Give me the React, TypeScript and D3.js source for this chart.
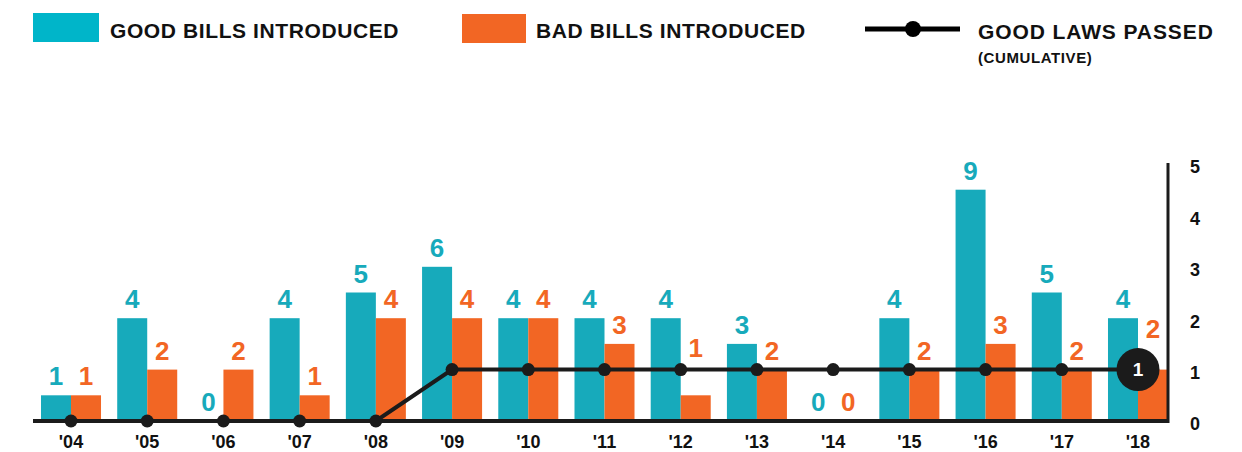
import * as d3 from "d3";
import { useEffect, useRef } from "react";

const years = ["'04", "'05", "'06", "'07", "'08", "'09", "'10", "'11", "'12", "'13", "'14", "'15", "'16", "'17", "'18"];
const goodBills = [1, 4, 0, 4, 5, 6, 4, 4, 4, 3, 0, 4, 9, 5, 4];
const badBills = [1, 2, 2, 1, 4, 4, 4, 3, 1, 2, 0, 2, 3, 2, 2];
const goodLawsCumulative = [0, 0, 0, 0, 0, 1, 1, 1, 1, 1, 1, 1, 1, 1, 1];
const axisTicks = [0, 1, 2, 3, 4, 5];

const TEAL = "#17aabb";
const ORANGE = "#f26624";
const DARK = "#1b1b1b";
const FONT = "'Liberation Sans', Arial, sans-serif";

const App = () => {
  const ref = useRef<SVGSVGElement>(null);

  useEffect(() => {
    const svg = d3.select(ref.current);
    svg.selectAll("*").remove();

    // bars are drawn at half their count against the 0-5 axis
    const x = d3.scaleBand().domain(years).range([41, 1168]).paddingInner(0.2126).paddingOuter(0);
    const xs = d3.scaleBand().domain(["good", "bad"]).range([0, x.bandwidth()]);
    const y = d3.scaleLinear().domain([0, 5]).range([421, 164]);
    const cx = (yr: string) => x(yr)! + x.bandwidth() / 2;

    // legend
    const legend = svg
      .append("g")
      .style("font-family", FONT)
      .style("font-weight", "bold")
      .style("letter-spacing", "0.6px");
    legend.append("rect").attr("x", 33).attr("y", 13).attr("width", 66).attr("height", 29).attr("fill", "#00b5c9");
    legend.append("text").attr("x", 110).attr("y", 38).attr("font-size", 21).attr("fill", "#111").text("GOOD BILLS INTRODUCED");
    legend.append("rect").attr("x", 462).attr("y", 14).attr("width", 64).attr("height", 29).attr("fill", ORANGE);
    legend.append("text").attr("x", 536).attr("y", 38).attr("font-size", 21).attr("fill", "#111").text("BAD BILLS INTRODUCED");
    legend.append("line").attr("x1", 865).attr("x2", 960).attr("y1", 29).attr("y2", 29).attr("stroke", "#000").attr("stroke-width", 5);
    legend.append("circle").attr("cx", 913).attr("cy", 29).attr("r", 8).attr("fill", "#000");
    legend
      .append("text")
      .attr("x", 978)
      .attr("y", 39)
      .attr("font-size", 21)
      .attr("fill", "#111")
      .style("letter-spacing", "0.9px")
      .text("GOOD LAWS PASSED");
    legend.append("text").attr("x", 978).attr("y", 63).attr("font-size", 15).attr("fill", "#111").text("(CUMULATIVE)");

    const rows = years.map((yr, i) => ({ yr, i, good: goodBills[i], bad: badBills[i], laws: goodLawsCumulative[i] }));

    // bars
    const groups = svg.append("g").selectAll("g").data(rows).enter().append("g").attr("transform", (d) => `translate(${x(d.yr)},0)`);
    groups
      .selectAll("rect")
      .data((d) => [
        { key: "good", v: d.good },
        { key: "bad", v: d.bad },
      ])
      .enter()
      .append("rect")
      .attr("x", (d) => xs(d.key)!)
      .attr("y", (d) => y(d.v / 2))
      .attr("width", xs.bandwidth())
      .attr("height", (d) => y(0) - y(d.v / 2))
      .attr("fill", (d) => (d.key === "good" ? TEAL : ORANGE));

    // baseline + right axis
    svg.append("line").attr("x1", 33).attr("x2", 1169).attr("y1", y(0)).attr("y2", y(0)).attr("stroke", DARK).attr("stroke-width", 4);
    svg.append("line").attr("x1", 1168).attr("x2", 1168).attr("y1", y(5) - 1).attr("y2", y(0) + 2).attr("stroke", DARK).attr("stroke-width", 3);
    svg
      .append("g")
      .selectAll("text")
      .data(axisTicks)
      .enter()
      .append("text")
      .attr("x", 1195)
      .attr("y", (d) => y(d) + 3)
      .attr("dy", "0.35em")
      .attr("text-anchor", "middle")
      .attr("font-family", FONT)
      .attr("font-weight", "bold")
      .attr("font-size", 18)
      .attr("fill", "#111")
      .text((d) => d);

    // year labels
    svg
      .append("g")
      .selectAll("text")
      .data(years)
      .enter()
      .append("text")
      .attr("x", (d) => cx(d))
      .attr("y", 448)
      .attr("text-anchor", "middle")
      .attr("font-family", FONT)
      .attr("font-weight", "bold")
      .attr("font-size", 18)
      .attr("fill", "#111")
      .text((d) => d);

    // cumulative line
    const line = d3
      .line<(typeof rows)[number]>()
      .x((d) => cx(d.yr))
      .y((d) => y(d.laws));
    svg.append("path").datum(rows).attr("d", line).attr("fill", "none").attr("stroke", DARK).attr("stroke-width", 4);
    const last = rows.length - 1;
    svg
      .append("g")
      .selectAll("circle")
      .data(rows)
      .enter()
      .append("circle")
      .attr("cx", (d) => cx(d.yr))
      .attr("cy", (d) => y(d.laws))
      .attr("r", (d) => (d.i === last ? 21.5 : 6.5))
      .attr("fill", DARK);
    svg
      .append("text")
      .attr("x", cx(years[last]))
      .attr("y", y(goodLawsCumulative[last]))
      .attr("dy", "0.36em")
      .attr("text-anchor", "middle")
      .attr("font-family", FONT)
      .attr("font-weight", "bold")
      .attr("font-size", 19)
      .attr("fill", "#fff")
      .text(goodLawsCumulative[last]);

    // value labels, lifted above the line where a bar sits under it
    const labels: { x: number; y: number; v: number; c: string }[] = [];
    rows.forEach((d) => {
      const lineY = y(d.laws);
      (["good", "bad"] as const).forEach((key) => {
        const v = key === "good" ? d.good : d.bad;
        const top = y(v / 2);
        const bx = x(d.yr)! + xs(key)! + xs.bandwidth() / 2;
        let base = top;
        if (v > 0 && top > lineY + 2) base = lineY - 3;
        if (d.i === last && key === "bad") base = Math.min(base, lineY - 21.5);
        labels.push({ x: bx, y: base - 10, v, c: key === "good" ? TEAL : ORANGE });
      });
    });
    svg
      .append("g")
      .selectAll("text")
      .data(labels)
      .enter()
      .append("text")
      .attr("x", (d) => d.x)
      .attr("y", (d) => d.y)
      .attr("text-anchor", "middle")
      .attr("font-family", FONT)
      .attr("font-weight", "bold")
      .attr("font-size", 26)
      .attr("fill", (d) => d.c)
      .text((d) => d.v);
  }, []);

  return (
    <svg
      ref={ref}
      width={1242}
      height={452}
      style={{ position: "absolute", left: 0, top: 0, background: "#fff" }}
    />
  );
};

export default App;
